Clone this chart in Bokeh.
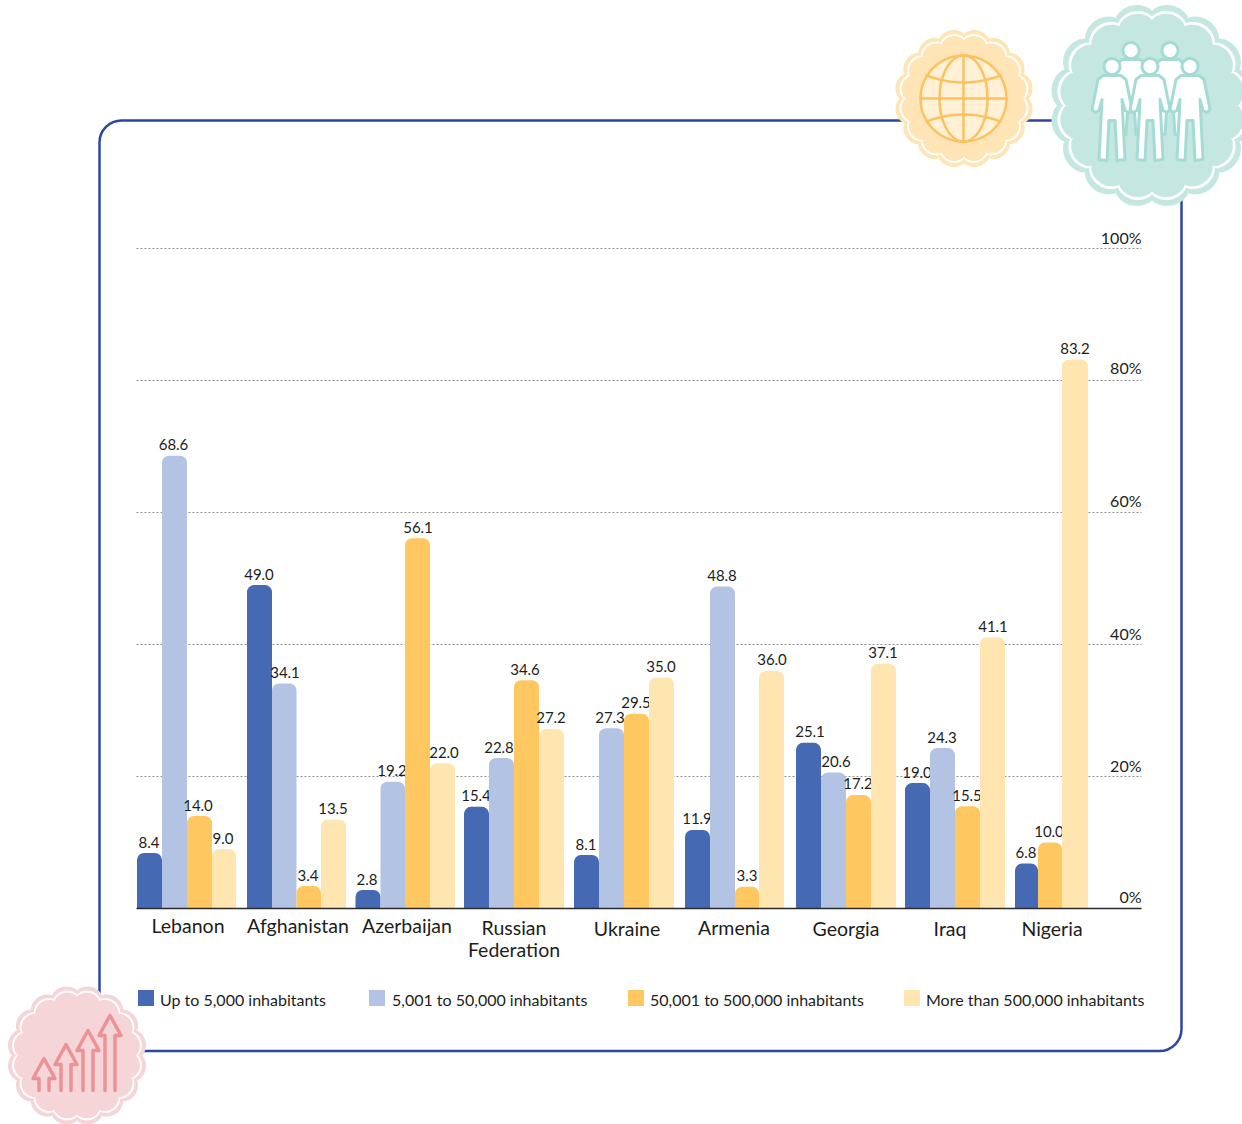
import numpy as np
from bokeh.core.properties import value
from bokeh.embed import file_html
from bokeh.plotting import figure
from bokeh.resources import INLINE

# Share of people by size of place of residence, by country
countries = ["Lebanon", "Afghanistan", "Azerbaijan", "Russian\nFederation", "Ukraine",
             "Armenia", "Georgia", "Iraq", "Nigeria"]
series_names = ["Up to 5,000 inhabitants", "5,001 to 50,000 inhabitants",
                "50,001 to 500,000 inhabitants", "More than 500,000 inhabitants"]
up_to_5k = [8.4, 49.0, 2.8, 15.4, 8.1, 11.9, 25.1, 19.0, 6.8]
from_5k_to_50k = [68.6, 34.1, 19.2, 22.8, 27.3, 48.8, 20.6, 24.3, None]
from_50k_to_500k = [14.0, 3.4, 56.1, 34.6, 29.5, 3.3, 17.2, 15.5, 10.0]
over_500k = [9.0, 13.5, 22.0, 27.2, 35.0, 36.0, 37.1, 41.1, 83.2]
tick_values = [0, 20, 40, 60, 80, 100]
tick_labels = ["0%", "20%", "40%", "60%", "80%", "100%"]

# Layout, in page pixels
W, H = 1242, 1124
BASE_Y, PX_PER_UNIT = 908, 6.6
COLORS = ["#4569B2", "#B3C3E3", "#FFC75F", "#FFE5B0"]
BAR_EDGES = [
    [137, 162, 187, 212, 236], [247, 272, 296.5, 321, 346], [355.5, 380.5, 405, 430, 455],
    [464, 489, 514, 539, 564], [574, 599, 624, 649, 674], [685, 710, 735, 759, 784],
    [796, 821, 846, 871, 896], [905, 930, 955, 980, 1005],
]
NIGERIA_EDGES = {0: (1015, 1038), 2: (1038, 1062), 3: (1062, 1088)}
LABEL_X = [
    [149, 173.5, 198, 223], [259, 285, 308, 333], [367, 392, 418, 444], [476, 499, 525, 551],
    [586, 610, 636, 661], [697, 722, 747, 772], [810, 836, 858, 883], [917, 942, 967, 993],
    [1026, None, 1049, 1075],
]
COUNTRY_POS = [(188, 925), (298, 925), (407, 925), (514, 927), (627, 928),
               (734, 927), (846, 928), (950, 928), (1052, 928)]
LEGEND_POS = [(138, 160), (369, 392), (628, 650), (904, 926)]
TICK_LIFT = [-12, -11, -11, -12, -13, -11]
FONT = "Lato"


def vy(py):
    """Value-axis coordinate of a page pixel row."""
    return (BASE_Y - py) / PX_PER_UNIT


# The frame sits slightly inside the canvas, so the horizontal scale is nudged to line up with page pixels
p = figure(width=W, height=H, output_backend="svg", toolbar_location=None,
           x_range=(0.5, W + 0.5), y_range=(vy(H), vy(0)), min_border=0)
p.axis.visible = False
p.grid.visible = False
p.outline_line_color = None
p.background_fill_color = "white"

# Rounded panel behind the chart
p.quad(left=[99.5], right=[1181.5], top=[vy(120)], bottom=[vy(1050.5)], fill_color=None,
       line_color="#2C47A0", line_width=2.5, border_radius=22)

# Dotted gridlines and their labels
for t, lab, lift in zip(tick_values, tick_labels, TICK_LIFT):
    if t:
        p.segment(x0=[136.5], x1=[1141.5], y0=[t], y1=[t], line_color="#8E8E8E",
                  line_width=1, line_dash="2 2")
    p.text(x=[1141.5], y=[t], text=[lab], text_align="right", text_baseline="alphabetic",
           y_offset=[lift], text_font=value(FONT), text_font_size="16px", text_color="#1d1d1b")

# Bars and value labels
all_series = [up_to_5k, from_5k_to_50k, from_50k_to_500k, over_500k]
for s, vals in enumerate(all_series):
    lefts, rights, tops, lx, ly, txt = [], [], [], [], [], []
    for c, v in enumerate(vals):
        if v is None:
            continue
        if c < len(BAR_EDGES):
            l, r = BAR_EDGES[c][s], BAR_EDGES[c][s + 1]
        else:
            l, r = NIGERIA_EDGES[s]
        lefts.append(l)
        rights.append(r)
        tops.append(v)
        lx.append(LABEL_X[c][s])
        ly.append(v)
        txt.append(f"{v:.1f}")
    p.quad(left=lefts, right=rights, top=tops, bottom=0, fill_color=COLORS[s], line_color=None,
           border_radius=(7, 7, 0, 0))
    p.text(x=lx, y=ly, text=txt, text_align="center", text_baseline="alphabetic", y_offset=-11,
           text_font=value(FONT), text_font_size="15px", text_color="#1d1d1b")

# Baseline
p.segment(x0=[136.5], x1=[1141.5], y0=[0], y1=[0], line_color="#2b2b2b", line_width=1.5)

# Country labels
for name, (cx, cy) in zip(countries, COUNTRY_POS):
    for i, line in enumerate(name.split("\n")):
        p.text(x=[cx], y=[vy(cy + 22 * i)], text=[line], text_align="center", text_baseline="middle",
               text_font=value(FONT), text_font_size="19.5px", text_color="#1d1d1b")

# Legend
for name, color, (bx, tx) in zip(series_names, COLORS, LEGEND_POS):
    p.quad(left=[bx], right=[bx + 16], top=[vy(989.5)], bottom=[vy(1005.5)], fill_color=color, line_color=None)
    p.text(x=[tx], y=[vy(999)], text=[name], text_align="left", text_baseline="middle",
           text_font=value(FONT), text_font_size="16px", text_color="#1d1d1b")


# Scalloped badges
def scallop(cx, cy, radius, lobes, depth):
    th = np.linspace(0, 2 * np.pi, 721)
    r = radius - depth + depth * np.abs(np.sin(lobes * th / 2)) ** 0.7
    return cx + r * np.cos(th), vy(cy - r * np.sin(th))


def badge(cx, cy, radius, lobes, color):
    scale = radius / 68
    for rr, col in ((radius, color), (radius - 4 * scale, "white"), (radius - 6 * scale, color)):
        x, y = scallop(cx, cy, rr, lobes, 5 * scale)
        p.patch(x, y, fill_color=col, line_color=None)


def curve(fx, fy, **kw):
    p.line(fx, vy(np.asarray(fy)), line_join="round", line_cap="round", **kw)


# Globe badge
badge(964, 98, 69.5, 16, "#FFE5B5")
gx, gy, gr = 963.5, 98, 43
gold = dict(line_color="#FDC25E", line_width=2.5)
t = np.linspace(0, 2 * np.pi, 181)
p.patch(gx + gr * np.cos(t), vy(gy + gr * np.sin(t)), fill_color="#FFF0D6", **gold)
curve(gx + 24 * np.cos(t), gy + gr * np.sin(t), **gold)
curve([gx, gx], [gy - gr, gy + gr], **gold)
curve([gx - gr, gx + gr], [gy, gy], **gold)
u = np.linspace(-1, 1, 41)
curve(gx + 37 * u, gy - 23 + 7 * (1 - u ** 2), **gold)
curve(gx + 37 * u, gy + 23 - 7 * (1 - u ** 2), **gold)

# People badge
badge(1152, 105, 102, 16, "#C5E7E1")
half = [(0, 9), (9, 9), (14, 13), (20, 43), (17, 46), (13, 44), (10, 33), (13, 93), (5, 94), (3, 54), (0, 54)]


def person(hx, hy, leg_scale=1.0):
    pts = [(dx, dy if dy < 50 else 54 + (dy - 54) * leg_scale) for dx, dy in half]
    xs = [hx + d[0] for d in pts] + [hx - d[0] for d in reversed(pts)]
    ys = [hy + d[1] for d in pts] + [hy + d[1] for d in reversed(pts)]
    p.patch(xs, vy(np.array(ys)), fill_color="white", line_color="#A5DBD5", line_width=3, line_join="round")
    a = np.linspace(0, 2 * np.pi, 61)
    p.patch(hx + 8 * np.cos(a), vy(hy + 8 * np.sin(a)), fill_color="white", line_color="#A5DBD5", line_width=3)


person(1131, 50, 0.75)
person(1170, 50, 0.75)
person(1112, 66)
person(1150, 66)
person(1190, 66)

# Rising-arrows badge
badge(77, 1055, 70, 16, "#F5D5D7")
arrow_tips = [(44, 1058), (66, 1044), (88, 1030), (110, 1015)]
for ax, ay in arrow_tips:
    xs = [ax - 5, ax - 5, ax - 11, ax, ax + 11, ax + 5, ax + 5]
    ys = [1090, ay + 20, ay + 20, ay, ay + 20, ay + 20, 1090]
    curve(xs, ys, line_color="#EC9297", line_width=3.5)

open("out.html", "w").write(file_html(p, INLINE))
